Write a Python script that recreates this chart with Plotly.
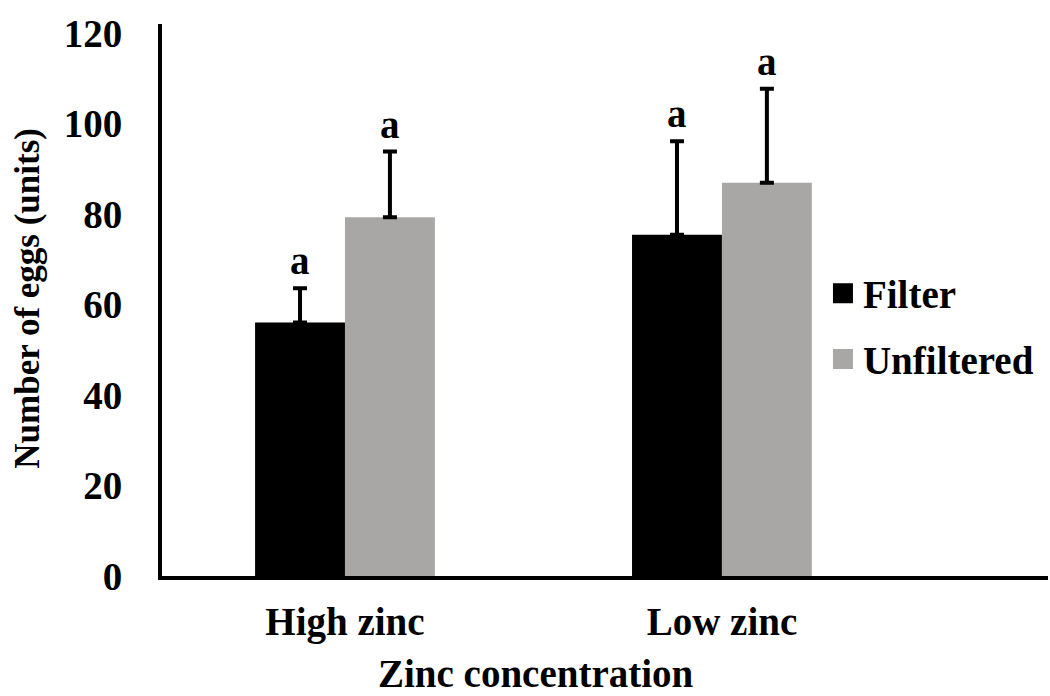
import plotly.graph_objects as go

categories = ["High zinc", "Low zinc"]
filter_vals = [56.0, 75.4]
filter_err = [7.6, 20.7]
unfilt_vals = [79.3, 86.9]
unfilt_err = [14.5, 20.8]
sig_filter = ["a", "a"]
sig_unfilt = ["a", "a"]
y_ticks = [0, 20, 40, 60, 80, 100, 120]

FONT = "Liberation Serif"
BLACK = "#000000"
GRAY = "#A9A6A6"
FS = 39

def f(size=FS):
    return dict(family=FONT, size=size, color=BLACK, weight="bold")

fig = go.Figure()
fig.add_trace(go.Bar(
    x=categories, y=filter_vals, name="Filter", marker_color=BLACK,
    marker_line_width=0, showlegend=False, offsetgroup="f",
    error_y=dict(type="data", symmetric=False, array=filter_err,
                 arrayminus=[0, 0], color=BLACK, thickness=4, width=7),
))
fig.add_trace(go.Bar(
    x=categories, y=unfilt_vals, name="Unfiltered", marker_color=GRAY,
    marker_line_width=0, showlegend=False, offsetgroup="u",
    error_y=dict(type="data", symmetric=False, array=unfilt_err,
                 arrayminus=[0, 0], color=BLACK, thickness=4, width=7),
))
# legend entries with larger square swatches
for nm, col in [("Filter", BLACK), ("Unfiltered", GRAY)]:
    fig.add_trace(go.Scatter(
        x=[None], y=[None], mode="markers", name=nm, legendgroup=nm,
        marker=dict(symbol="square", size=16, color=col,
                    line=dict(color=col, width=4)),
    ))

annotations = []
# significance letters
for i, c in enumerate(categories):
    annotations.append(dict(x=c, y=filter_vals[i] + filter_err[i], xref="x", yref="y",
                            text=sig_filter[i], showarrow=False, yanchor="bottom",
                            xshift=-45, yshift=4, font=f()))
    annotations.append(dict(x=c, y=unfilt_vals[i] + unfilt_err[i], xref="x", yref="y",
                            text=sig_unfilt[i], showarrow=False, yanchor="bottom",
                            xshift=45, yshift=4, font=f()))
# axis titles
annotations.append(dict(x=-0.152, y=0.503, xref="paper", yref="paper",
                        text="Number of eggs (units)", textangle=-90, showarrow=False,
                        xanchor="center", yanchor="middle", font=f(35)))
annotations.append(dict(x=0.422, y=-0.1775, xref="paper", yref="paper",
                        text="Zinc concentration", showarrow=False,
                        xanchor="center", yanchor="middle", font=f()))

fig.update_layout(
    width=1050, height=696,
    margin=dict(l=162, r=2, t=24, b=120, autoexpand=False),
    paper_bgcolor="white", plot_bgcolor="white",
    font=f(),
    barmode="group", bargap=0.523, bargroupgap=0,
    annotations=annotations,
    legend=dict(x=0.746, y=0.57, xanchor="left", yanchor="top",
                bgcolor="rgba(0,0,0,0)", traceorder="grouped", tracegroupgap=12,
                font=f()),
    xaxis=dict(type="category", range=[-0.4854, 1.865], showline=True, linecolor=BLACK,
               linewidth=4, ticks="", showgrid=False, zeroline=False,
               ticklabelstandoff=8, tickfont=f()),
    yaxis=dict(range=[0, 122], tickvals=y_ticks, showline=True, linecolor=BLACK,
               linewidth=4, ticks="", showgrid=False, zeroline=False,
               ticklabelstandoff=28, tickfont=f()),
)

fig.write_html(
    "out.html",
    config={"displayModeBar": False},
    post_script="document.body.style.margin='0';document.body.style.overflow='hidden';",
)
